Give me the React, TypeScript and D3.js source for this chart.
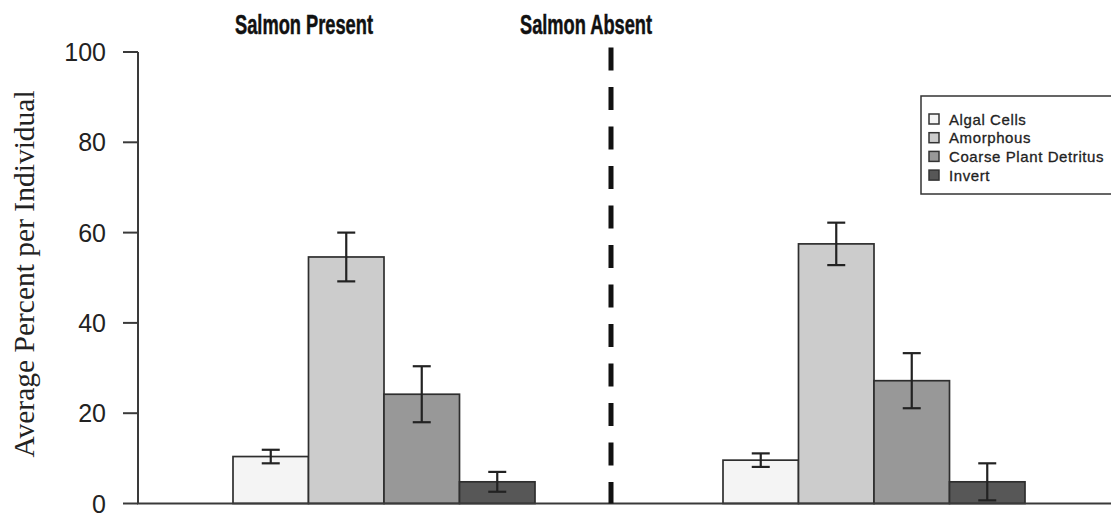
import React from "react";
import * as d3 from "d3";

// Diet composition by salmon presence
const groups = ["Salmon Present", "Salmon Absent"];
const categories = ["Algal Cells", "Amorphous", "Coarse Plant Detritus", "Invert"];
const presentMeans = [10.4, 54.6, 24.2, 4.8];
const presentErrors = [1.5, 5.4, 6.2, 2.2];
const absentMeans = [9.6, 57.5, 27.2, 4.8];
const absentErrors = [1.5, 4.7, 6.1, 4.1];
const yTicks = [0, 20, 40, 60, 80, 100];
const fills = ["#f4f4f4", "#cccccc", "#989898", "#575757"];

const W = 1111;
const H = 523;

export default function App() {
  const y = d3.scaleLinear().domain([0, 100]).range([503.5, 52]);
  const outer = d3.scaleBand<string>().domain(groups).range([138, 1118]);
  const inner = d3.scaleBand<string>().domain(categories).range([95, 397]);

  const seriesByGroup: Record<string, { mean: number[]; err: number[] }> = {
    "Salmon Present": { mean: presentMeans, err: presentErrors },
    "Salmon Absent": { mean: absentMeans, err: absentErrors },
  };

  const titleLayout = [
    { text: groups[0], cx: 304, len: 138 },
    { text: groups[1], cx: 586, len: 132 },
  ];

  const axisColor = "#3a3a3a";
  const capW = 18;

  return (
    <svg
      width={W}
      height={H}
      style={{ position: "absolute", left: 0, top: 0, background: "#fff" }}
      fontFamily="'Liberation Sans', Arial, sans-serif"
    >
      {/* panel titles */}
      {titleLayout.map((t) => (
        <text
          key={t.text}
          x={t.cx - t.len / 2}
          y={33.5}
          fontSize={28}
          fontWeight="bold"
          textLength={t.len}
          lengthAdjust="spacingAndGlyphs"
          fill="#111"
          stroke="#111"
          strokeWidth={0.5}
        >
          {t.text}
        </text>
      ))}

      {/* y axis title */}
      <text
        transform={`translate(34,274) rotate(-90)`}
        textAnchor="middle"
        fontFamily="'Liberation Serif', 'Times New Roman', serif"
        fontSize={29.5}
        fill="#222"
      >
        Average Percent per Individual
      </text>

      {/* y axis */}
      <line x1={138} x2={138} y1={y(100)} y2={y(0)} stroke={axisColor} strokeWidth={2} />
      {yTicks.map((t) => (
        <g key={t}>
          <line x1={123} x2={138} y1={y(t)} y2={y(t)} stroke={axisColor} strokeWidth={2} />
          <text
            x={106}
            y={y(t)}
            textAnchor="end"
            dominantBaseline="central"
            fontSize={25}
            fill="#222"
          >
            {t}
          </text>
        </g>
      ))}

      {/* bars with error bars */}
      {groups.map((g) => {
        const gx = outer(g)!;
        const s = seriesByGroup[g];
        return (
          <g key={g}>
            {categories.map((c, i) => {
              const x0 = gx + inner(c)!;
              const bw = inner.bandwidth();
              const cx = x0 + bw / 2;
              const m = s.mean[i];
              const e = s.err[i];
              return (
                <g key={c}>
                  <rect
                    x={x0}
                    y={y(m)}
                    width={bw}
                    height={y(0) - y(m)}
                    fill={fills[i]}
                    stroke="#2e2e2e"
                    strokeWidth={1.7}
                  />
                  <line x1={cx} x2={cx} y1={y(m + e)} y2={y(m - e)} stroke="#222" strokeWidth={2.2} />
                  <line x1={cx - capW / 2} x2={cx + capW / 2} y1={y(m + e)} y2={y(m + e)} stroke="#222" strokeWidth={2.2} />
                  <line x1={cx - capW / 2} x2={cx + capW / 2} y1={y(m - e)} y2={y(m - e)} stroke="#222" strokeWidth={2.2} />
                </g>
              );
            })}
          </g>
        );
      })}

      {/* baseline */}
      <line x1={137} x2={W} y1={y(0)} y2={y(0)} stroke={axisColor} strokeWidth={2} />

      {/* dashed separator */}
      <line
        x1={611}
        x2={611}
        y1={47.5}
        y2={y(0)}
        stroke="#111"
        strokeWidth={5}
        strokeDasharray="23 16.5"
      />

      {/* legend */}
      <rect x={921} y={96} width={210} height={98} fill="#fff" stroke="#333" strokeWidth={1.5} />
      {categories.map((c, i) => {
        const cy = 119 + i * 18.7;
        return (
          <g key={c}>
            <rect x={929} y={cy - 5} width={10} height={10} fill={fills[i]} stroke="#333" strokeWidth={1.5} />
            <text
              x={949}
              y={cy}
              dominantBaseline="central"
              fontSize={15}
              letterSpacing={0.6}
              fill="#222"
              stroke="#222"
              strokeWidth={0.3}
            >
              {c}
            </text>
          </g>
        );
      })}
    </svg>
  );
}
